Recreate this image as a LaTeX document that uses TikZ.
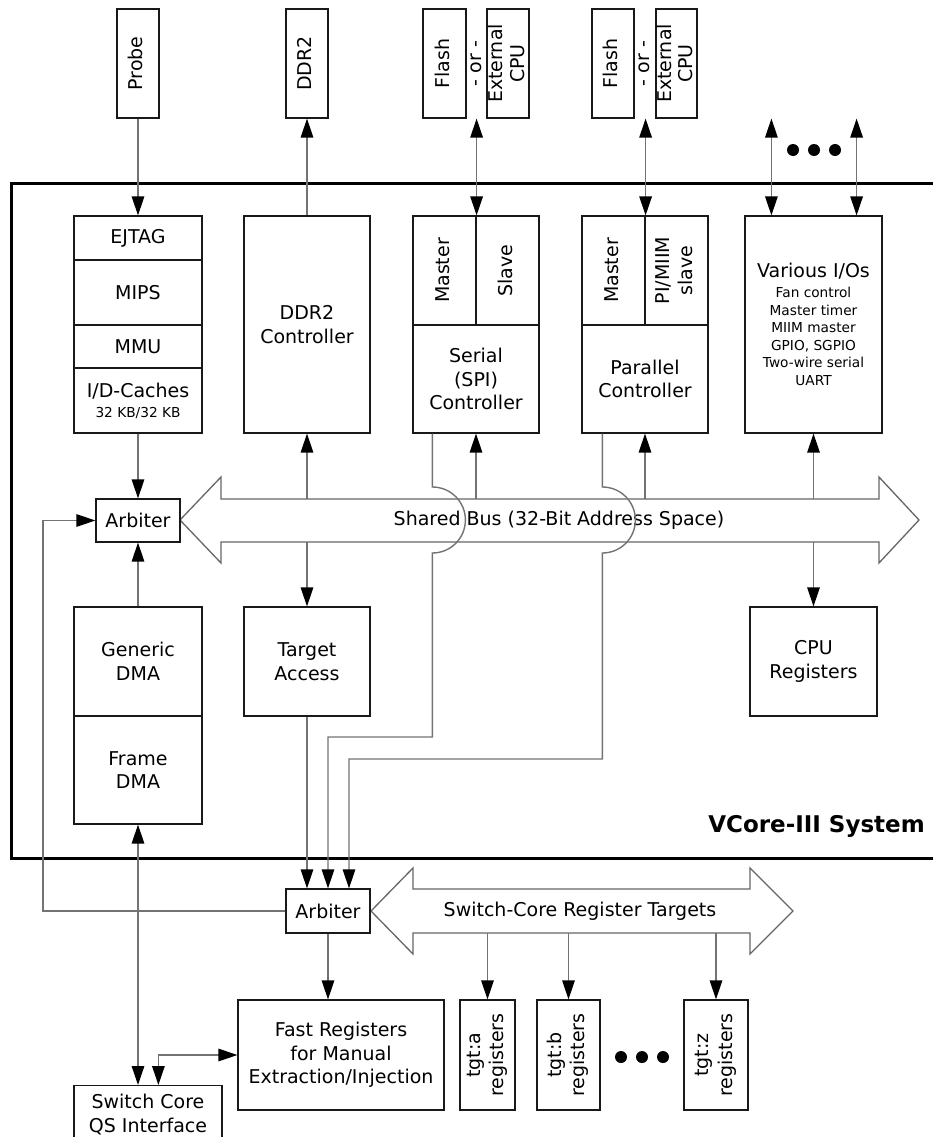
\documentclass[tikz,border=0pt]{standalone}
\usepackage{fontspec}
\setmainfont{DejaVu Sans}
\usetikzlibrary{arrows.meta}
\newcommand\fm{\fontsize{19}{23.5}\selectfont}
\newcommand\fsm{\fontsize{13.7}{17.5}\selectfont}
\newcommand\rtxt[2][1]{\rotatebox{90}{\renewcommand\arraystretch{#1}\begin{tabular}{@{}c@{}}#2\end{tabular}}}
\begin{document}
\begin{tikzpicture}[x=1pt,y=-1pt,
  box/.style={draw=black!90, line width=1.2pt, fill=white, inner sep=0pt, align=center, font=\fm},
  conn/.style={draw=black!55, line width=1.4pt},
  >={Triangle[length=19pt,width=12.5pt,color=black]},
  lbl/.style={inner sep=0pt, align=center, font=\fm}]
\useasboundingbox (0,0) rectangle (933,1137);
\clip (0,0) rectangle (933,1137);
% frame
\draw[line width=3pt] (940,183) -- (11,183) -- (11,858) -- (940,858);
\node[anchor=base east, inner sep=0pt, font=\fontsize{23}{28}\selectfont\bfseries] (vc) at (925,832) {VCore-III System};
% buses
\draw[black!60, line width=1.3pt, fill=white] (180,520) -- (221,477) -- (221,499) -- (879,499) -- (879,477) -- (919,520) -- (879,563) -- (879,542) -- (221,542) -- (221,563) -- cycle;
\node[lbl] (bustxt) at (559,520) {Shared Bus (32-Bit Address Space)};
\coordinate (busT) at (0,499);
\coordinate (busB) at (0,542);
\coordinate (busM) at (0,520);
\draw[black!60, line width=1.3pt, fill=white] (371,911) -- (413,868) -- (413,889) -- (750,889) -- (750,868) -- (793,911) -- (750,954) -- (750,933) -- (413,933) -- (413,954) -- cycle;
\node[lbl] (sbtxt) at (580,911) {Switch-Core Register Targets};
\coordinate (sbT) at (0,889);
\coordinate (sbB) at (0,933);
% external boxes
\node[box, minimum width=42pt, minimum height=109pt] (probe) at (138,63.5) {\rtxt{Probe}};
\node[box, minimum width=42pt, minimum height=109pt] (ddr) at (307,63.5) {\rtxt{DDR2}};
\node[box, minimum width=43pt, minimum height=109pt] (flA) at (444.5,63.5) {\rtxt{Flash}};
\node[box, minimum width=42pt, minimum height=109pt] (exA) at (508,63.5) {};
\node[lbl] (orA) at (498.5,63.5) {\rtxt[0.92]{- or -\\External\\CPU}};
\node[box, minimum width=42pt, minimum height=109pt] (flB) at (613,63.5) {\rtxt{Flash}};
\node[box, minimum width=41pt, minimum height=109pt] (exB) at (676.5,63.5) {};
\node[lbl] (orB) at (667,63.5) {\rtxt[0.92]{- or -\\External\\CPU}};
\fill (793,150) circle[radius=6pt] (814,150) circle[radius=6pt] (835,150) circle[radius=6pt];
% CPU stack
\node[box, minimum width=128pt, minimum height=44pt] (ejtag) at (138,238) {EJTAG};
\node[box, minimum width=128pt, minimum height=65pt] (mips) at (138,292.5) {MIPS};
\node[box, minimum width=128pt, minimum height=43pt] (mmu) at (138,346.5) {MMU};
\node[box, minimum width=128pt, minimum height=65pt] (cache) at (138,400.5) {I/D-Caches\\[-3.5pt]{\fsm 32 KB/32 KB}};
\node[box, minimum width=126pt, minimum height=217pt] (ddrc) at (307,324.5) {DDR2\\Controller};
\node[box, minimum width=63pt, minimum height=109pt] (sm) at (444.5,270.5) {\rtxt{Master}};
\node[box, minimum width=63pt, minimum height=109pt] (ss) at (507.5,270.5) {\rtxt{Slave}};
\node[box, minimum width=126pt, minimum height=108pt] (sc) at (476,379) {Serial\\(SPI)\\Controller};
\node[box, minimum width=63pt, minimum height=109pt] (pm) at (613.5,270.5) {\rtxt{Master}};
\node[box, minimum width=63pt, minimum height=109pt] (ps) at (676.5,270.5) {\rtxt{PI/MIIM\\slave}};
\node[box, minimum width=126pt, minimum height=108pt] (pc) at (645,379) {Parallel\\Controller};
\node[box, minimum width=137pt, minimum height=217pt] (var) at (813.5,324.5) {Various I/Os\\[-3.5pt]{\fsm Fan control}\\[-6pt]{\fsm Master timer}\\[-6pt]{\fsm MIIM master}\\[-6pt]{\fsm GPIO, SGPIO}\\[-6pt]{\fsm Two-wire serial}\\[-6pt]{\fsm UART}};
\node[box, minimum width=84pt, minimum height=43pt] (arb) at (138,520.5) {Arbiter};
\node[box, minimum width=128pt, minimum height=109pt] (gdma) at (138,661.5) {Generic\\DMA};
\node[box, minimum width=128pt, minimum height=108pt] (fdma) at (138,770) {Frame\\DMA};
\node[box, minimum width=126pt, minimum height=109pt] (tacc) at (307,661.5) {Target\\Access};
\node[box, minimum width=127pt, minimum height=109pt] (cpu) at (813.5,661.5) {CPU\\Registers};
% lower part
\node[box, minimum width=84pt, minimum height=44pt] (larb) at (328,911) {Arbiter};
\node[box, minimum width=206pt, minimum height=110pt] (fast) at (341,1055) {Fast Registers\\for Manual\\Extraction/Injection};
\node[box, minimum width=55pt, minimum height=110pt] (tga) at (487.5,1055) {\rtxt{tgt:a\\registers}};
\node[box, minimum width=63pt, minimum height=110pt] (tgb) at (568.5,1055) {\rtxt{tgt:b\\registers}};
\node[box, minimum width=64pt, minimum height=110pt] (tgz) at (716,1055) {\rtxt{tgt:z\\registers}};
\fill (621,1057) circle[radius=6pt] (642,1057) circle[radius=6pt] (663,1057) circle[radius=6pt];
\node[box, minimum width=148pt, minimum height=58pt, anchor=north] (qs) at (148,1085) {Switch Core\\QS Interface};
% connectors
\draw[conn,->] (probe.south) -- (ejtag.north);
\draw[conn,->] (ddrc.north) -- (ddr.south);
\draw[conn,<->] (sm.north east) -- (sm.north east |- flA.south);
\draw[conn,<->] (pm.north east) -- (pm.north east |- flB.south);
\coordinate (v1) at ([xshift=27pt]var.north west);
\coordinate (v2) at ([xshift=-26pt]var.north east);
\draw[conn,<->] (v1) -- (v1 |- probe.south);
\draw[conn,<->] (v2) -- (v2 |- probe.south);
\draw[conn,->] (cache.south) -- (arb.north);
\draw[conn,->] (ddrc.south |- busT) -- (ddrc.south);
\draw[conn,->] (sc.south |- busT) -- (sc.south);
\draw[conn,->] (pc.south |- busT) -- (pc.south);
\draw[conn,->] (var.south |- busT) -- (var.south);
\draw[conn,->] (ddrc.south |- busB) -- (tacc.north);
\draw[conn,->] (var.south |- busB) -- (cpu.north);
\draw[conn,->] (gdma.north) -- (arb.south);
\coordinate (s1) at ([xshift=20pt]sc.south west);
\coordinate (p1) at ([xshift=21pt]pc.south west);
\coordinate (r1) at (0,737);
\coordinate (r2) at (0,759);
\coordinate (fb) at (43,0);
\draw[conn,->] (s1) -- ([yshift=33pt]s1 |- busM) arc[start angle=90,end angle=-90,radius=33pt] -- (s1 |- r1) -| (larb.north);
\draw[conn,->] (p1) -- ([yshift=33pt]p1 |- busM) arc[start angle=90,end angle=-90,radius=33pt] -- (p1 |- r2) -| ([xshift=21pt]larb.north);
\draw[conn,->] (tacc.south) -- (tacc.south |- larb.north);
\draw[conn,->] (larb.west) -- (fb |- larb.west) -- (fb |- arb.west) -- (arb.west);
\draw[conn,->] (larb.south) -- (larb.south |- fast.north);
\draw[conn,->] (tga.north |- sbB) -- (tga.north);
\draw[conn,->] (tgb.north |- sbB) -- (tgb.north);
\draw[conn,->] (tgz.north |- sbB) -- (tgz.north);
\draw[conn,<->] (fdma.south) -- (fdma.south |- qs.north);
\draw[conn,<->] ([xshift=85pt]qs.north west) |- (fast.west);
\end{tikzpicture}
\end{document}
